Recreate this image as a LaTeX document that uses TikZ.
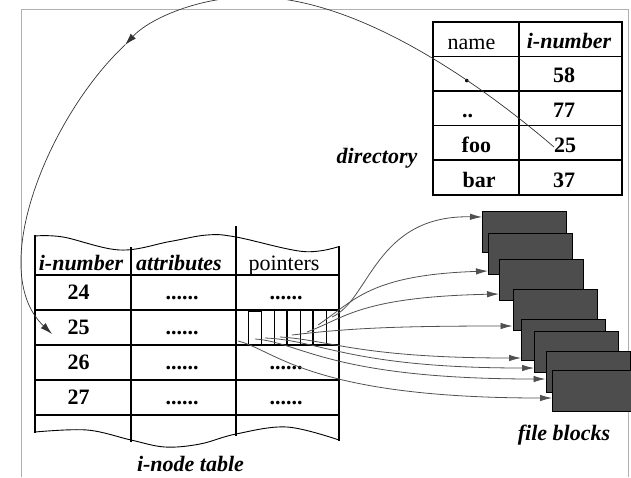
\documentclass[tikz,border=0pt]{standalone}
\usepackage{fontspec}
\setmainfont{Liberation Serif}
\usetikzlibrary{arrows.meta}
\definecolor{blockgray}{HTML}{4D4D4D}
\definecolor{linkgray}{HTML}{505050}
\definecolor{framegray}{HTML}{B0B0B0}
\begin{document}
\begin{tikzpicture}[x=1pt,y=-1pt,
  txt/.style={font=\fontsize{22}{26}\selectfont, inner sep=0pt, anchor=base},
  bi/.style={txt, font=\fontsize{22}{26}\selectfont\bfseries\itshape},
  bf/.style={txt, font=\fontsize{22}{26}\selectfont\bfseries},
  grid/.style={line width=1.2pt, line cap=rect},
  thin grid/.style={line width=0.9pt},
  fblock/.style={draw=black, line width=1pt, fill=blockgray, minimum width=84pt,
                 minimum height=41pt, inner sep=0pt, anchor=north west},
  link/.style={draw=linkgray, line width=0.8pt, -{Latex[length=12pt,width=6.5pt]}},
  bigarc/.style={draw=black!80, line width=0.7pt},
  bighead/.style={bigarc, -{Latex[length=12pt,width=7pt]}},
]
\useasboundingbox (0,0) rectangle (631,477);

% outer frame (open at the bottom)
\draw[framegray, line width=1pt] (21,477) -- (21,9.5) -- (628,9.5) -- (628,477);

% ---------------- directory ----------------
\draw[grid] (433,22) rectangle (622,195);
\foreach \y in {56.5,91,125.5,160} \draw[grid] (433,\y) -- (622,\y);
\draw[grid] (519,22) -- (519,195);

\node[txt, anchor=base west] (hname) at (447.5,49) {name};
\node[bi] (hnum) at (569,48) {i-number};
\node[bf, anchor=base west] (dot) at (464,82) {.};
\node[bf, anchor=base west] (dotdot) at (462,117) {..};
\node[bf, anchor=base west] (foo) at (461.5,152.5) {foo};
\node[bf, anchor=base west] (bar) at (462.5,187) {bar};
\node[bf] (n58) at (564,82) {58};
\node[bf] (n77) at (564,117) {77};
\node[bf] (n25) at (565,152.5) {25};
\node[bf] (n37) at (564,187) {37};
\node[bi] (dirlabel) at (377,163) {directory};

% ---------------- i-node table ----------------
\draw[thin grid] plot[smooth, tension=0.6] coordinates
  {(35,236) (63,237) (120,250) (170,241.5) (207,235) (236,237) (303,251.5) (339,246.5)};
\draw[thin grid] plot[smooth, tension=0.6] coordinates
  {(35,432) (87,430) (131,440) (165,447) (200,444) (236,434) (287,427) (339,440)};
\draw[grid] (35,236) -- (35,432);
\draw[grid] (131,248) -- (131,441);
\draw[grid] (236,227) -- (236,435);
\draw[grid] (339,246.5) -- (339,440);
\foreach \y in {275,310,345,380,415} \draw[grid] (35,\y) -- (339,\y);

\node[bi] (ihnum) at (81,270) {i-number};
\node[bi] (ihattr) at (179,270) {attributes};
\node[txt] (ihptr) at (284,270) {pointers};
\foreach \n/\y in {24/299,25/334,26/369,27/404} {
  \node[bf] (num\n) at (78.5,\y) {\n};
  \node[bf] (attr\n) at (182,\y) {......};
}
\foreach \n/\y in {24/299,26/369,27/404}
  \node[bf] (ptr\n) at (286,\y) {......};
\node[bi] (inodelabel) at (190.5,471.5) {i-node table};

% block pointers of i-node 25
\draw[line width=1.6pt] (248,311) -- (261,311);
\foreach \x in {248,261,274,300,326} \draw[thin grid] (\x,311) -- (\x,345);
\foreach \x in {287,313,339} \draw[line width=1.8pt] (\x,311) -- (\x,345);
\draw[line width=1.6pt] (248,345) -- (339,345);

% ---------------- file blocks ----------------
\node[fblock] (b1) at (482,211) {};
\node[fblock] (b2) at (488,232.5) {};
\node[fblock] (b3) at (499,258.5) {};
\node[fblock] (b4) at (512.5,288.5) {};
\node[fblock] (b5) at (521,318.5) {};
\node[fblock] (b6) at (534,331) {};
\node[fblock] (b7) at (545.5,351) {};
\node[fblock] (b8) at (552,369.5) {};
\node[bi] (fblabel) at (564,440) {file blocks};

% pointer origins and arrow tips on the blocks
\coordinate (s1) at (332,317);  \coordinate (e1) at (482,217);
\coordinate (s2) at (318,325);  \coordinate (e2) at (488,271);
\coordinate (s3) at (307,332);  \coordinate (e3) at (499,294);
\coordinate (s4) at (292,335);  \coordinate (e4) at (512.5,326);
\coordinate (s5) at (280,337);  \coordinate (e5) at (521,358);
\coordinate (s6) at (265,338);  \coordinate (e6) at (534,368);
\coordinate (s7) at (255,339);  \coordinate (e7) at (545.5,379);
\coordinate (s8) at (238,341);  \coordinate (e8) at (552,398);

\draw[link] (s1) .. controls (370,300) and (375,215) .. (e1);
\draw[link] (s2) .. controls (355,300) and (370,275) .. (e2);
\draw[link] (s3) .. controls (345,318) and (360,297) .. (e3);
\draw[link] (s4) .. controls (350,328) and (400,326) .. (e4);
\draw[link] (s5) .. controls (330,340) and (360,358) .. (e5);
\draw[link] (s6) .. controls (320,340) and (350,368) .. (e6);
\draw[link] (s7) .. controls (300,342) and (330,379) .. (e7);
\draw[link] (s8) .. controls (275,350) and (310,398) .. (e8);

% directory entry "foo" -> i-node 25
\coordinate (dstart) at (554,147);
\coordinate (dtop) at (250,-3);
\coordinate (dmid) at (125,45);
\coordinate (dend) at (52,334);
\draw[bigarc] (dstart) .. controls (470,75) and (350,-5) .. (dtop);
\draw[bighead] (dtop) .. controls (200,-3) and (150,18) .. (dmid);
\draw[bighead] (dmid) .. controls (50,115) and (-15,270) .. (dend);
\end{tikzpicture}
\end{document}
